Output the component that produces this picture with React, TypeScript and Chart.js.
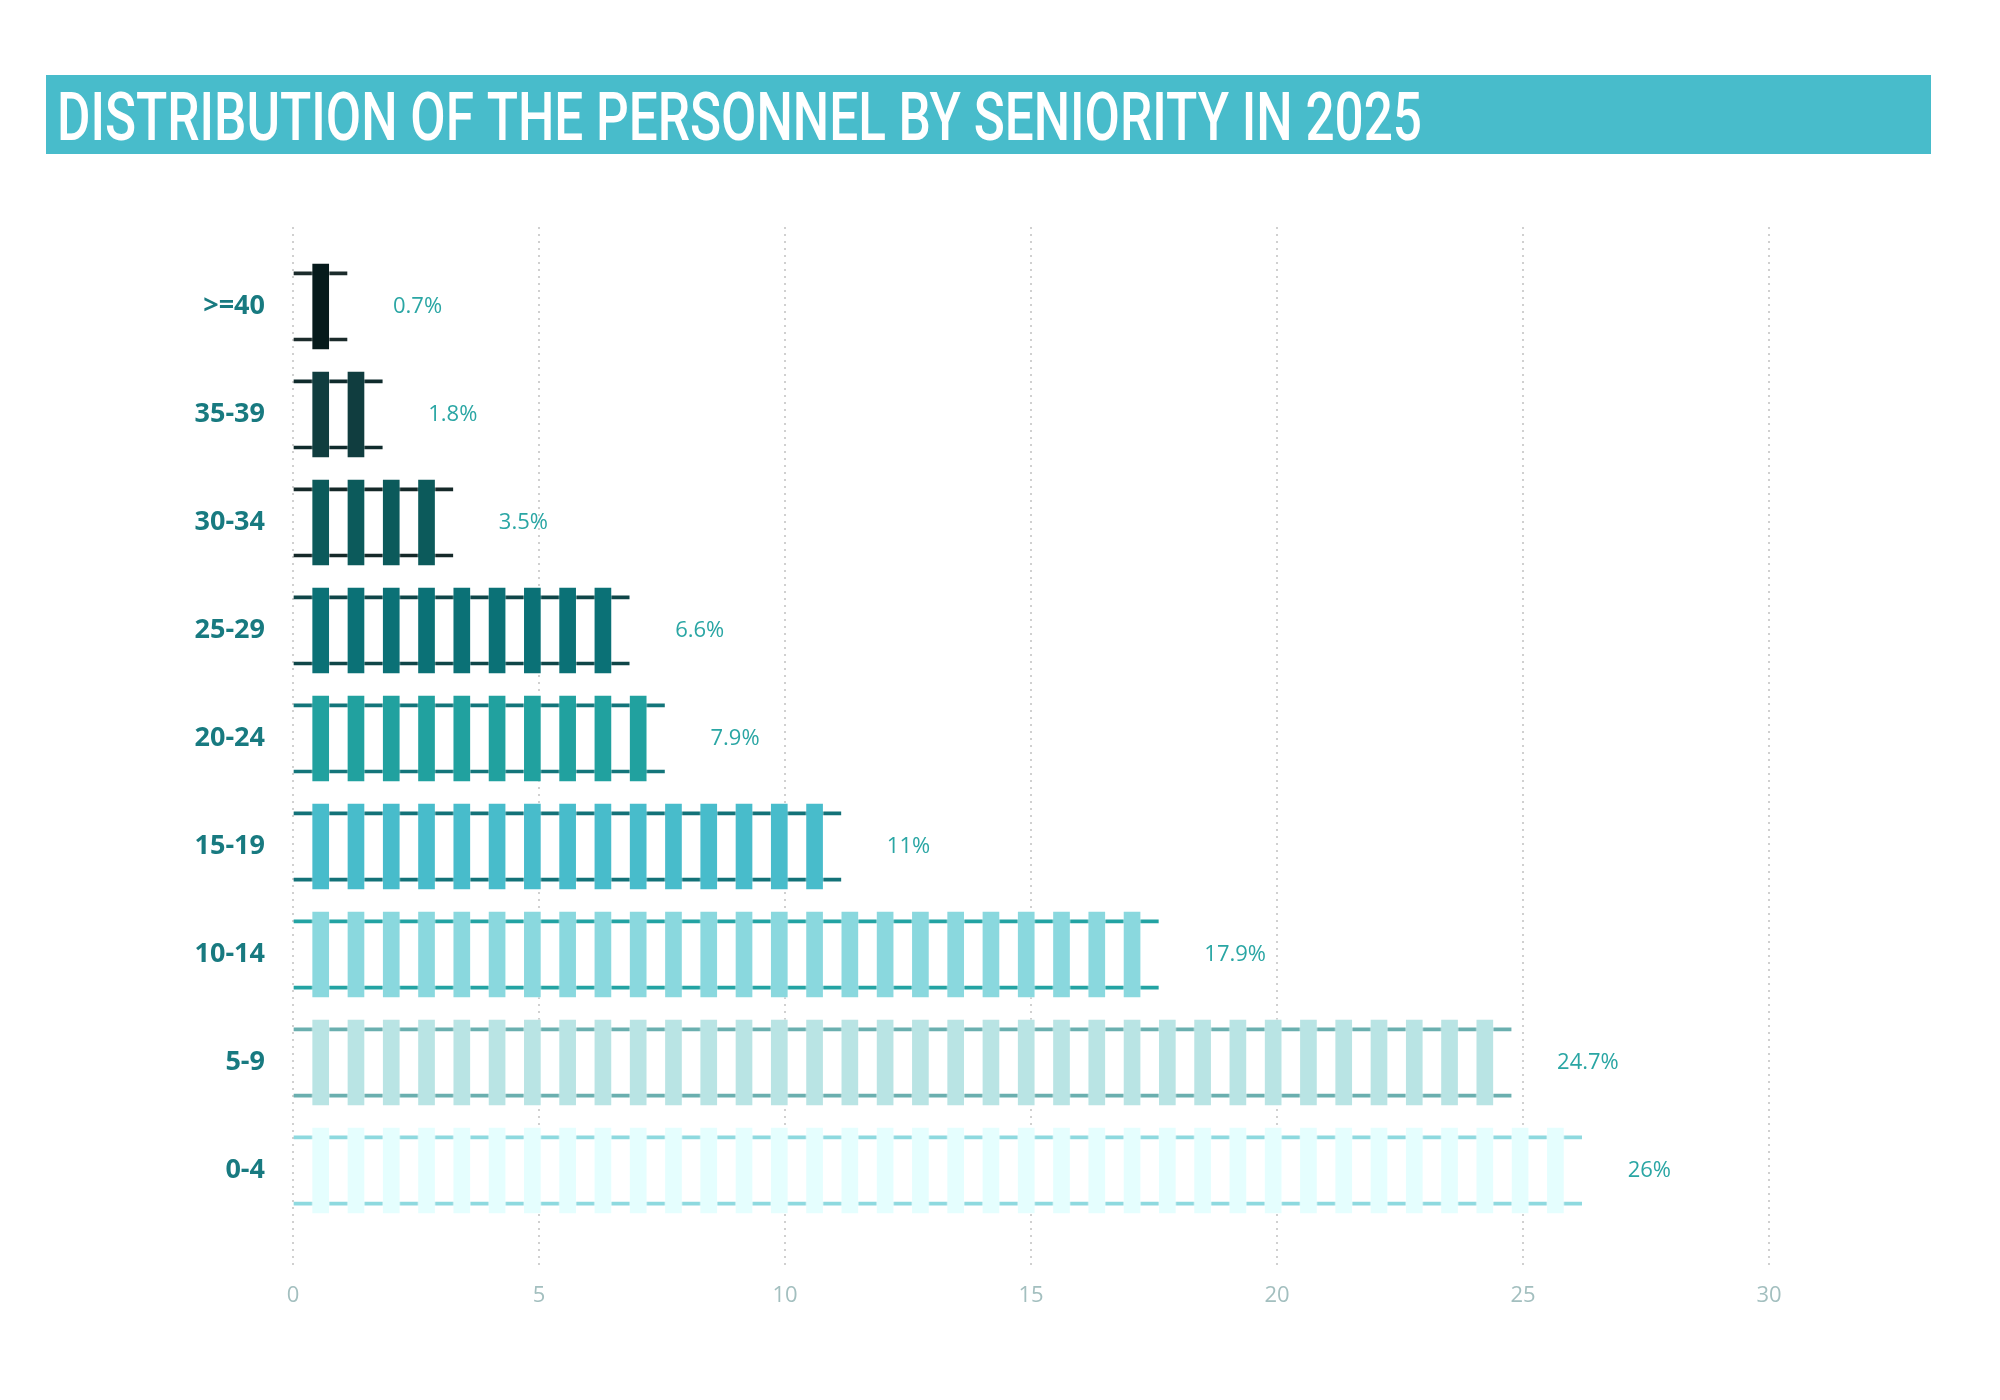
import React, { useEffect, useRef } from "react";
import { Chart, registerables } from "chart.js";

Chart.register(...registerables);

const TITLE = "DISTRIBUTION OF THE PERSONNEL BY SENIORITY IN 2025";

// Seniority bands, top to bottom
const categories = [">=40", "35-39", "30-34", "25-29", "20-24", "15-19", "10-14", "5-9", "0-4"];
// Share of personnel (%)
const shares = [0.7, 1.8, 3.5, 6.6, 7.9, 11, 17.9, 24.7, 26];
const valueLabels = ["0.7%", "1.8%", "3.5%", "6.6%", "7.9%", "11%", "17.9%", "24.7%", "26%"];

// Sleeper (tie) and rail colours per band
const tieColors = ["#061a1b", "#103d3f", "#0c5a5b", "#0b7176", "#21a19f", "#48bccb", "#8ad8de", "#b9e4e4", "#e5fefe"];
const railColors = ["#1b2b2b", "#0f2b2c", "#152929", "#0f4648", "#13757a", "#137278", "#23a3a3", "#6aafaf", "#8ed9df"];

const xMin = 0;
const xMax = 30;
const xStep = 5;

// Track drawing: sleeper pitch, first sleeper offset and width, in axis units
const TIE_PITCH = 0.717;
const TIE_OFFSET = 0.38;
const TIE_WIDTH = 0.366;
const RAIL_GAP = 0.306; // rail distance from row centre, in row units

const tieCount = (v: number) => Math.max(1, Math.floor(v / TIE_PITCH - 0.05));
const railEnd = (v: number) => tieCount(v) * TIE_PITCH + TIE_OFFSET;

type Pt = { x: [number, number]; y: number; row: number };

const tieData: Pt[] = [];
shares.forEach((v, i) => {
  const n = tieCount(v);
  for (let k = 0; k < n; k++) {
    const a = TIE_OFFSET + k * TIE_PITCH;
    tieData.push({ x: [a, a + TIE_WIDTH], y: i, row: i });
  }
});
const railTop: Pt[] = shares.map((v, i) => ({ x: [0, railEnd(v)], y: i - RAIL_GAP, row: i }));
const railBottom: Pt[] = shares.map((v, i) => ({ x: [0, railEnd(v)], y: i + RAIL_GAP, row: i }));

const bannerPlugin = {
  id: "banner",
  beforeDraw(chart: any) {
    const ctx = chart.ctx;
    ctx.save();
    ctx.fillStyle = "#ffffff";
    ctx.fillRect(0, 0, chart.width, chart.height);
    ctx.fillStyle = "#48bccb";
    ctx.fillRect(46, 75, 1885, 79);
    ctx.fillStyle = "#ffffff";
    ctx.font = '500 66px Roboto, "DejaVu Sans Condensed", sans-serif';
    ctx.textBaseline = "alphabetic";
    ctx.textAlign = "left";
    ctx.fillText(TITLE, 57, 140, 1365);
    ctx.restore();
  },
};

const valueLabelPlugin = {
  id: "valueLabels",
  afterDatasetsDraw(chart: any) {
    const ctx = chart.ctx;
    const xs = chart.scales.x;
    const ys = chart.scales.y;
    ctx.save();
    ctx.fillStyle = "#2aa6a4";
    ctx.font = '22px "Open Sans", "Noto Sans", sans-serif';
    ctx.textBaseline = "middle";
    ctx.textAlign = "left";
    shares.forEach((v, i) => {
      const px = xs.getPixelForValue(railEnd(v)) + 46;
      const py = ys.getPixelForValue(i);
      ctx.fillText(valueLabels[i], px, py);
    });
    ctx.restore();
  },
};

export default function App() {
  const ref = useRef<HTMLCanvasElement | null>(null);

  useEffect(() => {
    if (!ref.current) return;
    const chart = new Chart(ref.current, {
      type: "bar",
      data: {
        datasets: [
          {
            label: "ties",
            data: tieData as any,
            order: 0,
            grouped: false,
            barThickness: 87,
            backgroundColor: (c: any) => tieColors[c.raw ? c.raw.row : 0],
            borderColor: "rgba(255,255,255,0.35)",
            borderWidth: 1,
            borderSkipped: false,
          } as any,
          {
            label: "rail-top",
            data: railTop as any,
            order: 1,
            grouped: false,
            barThickness: 3,
            backgroundColor: (c: any) => railColors[c.raw ? c.raw.row : 0],
            borderWidth: 0,
          } as any,
          {
            label: "rail-bottom",
            data: railBottom as any,
            order: 1,
            grouped: false,
            barThickness: 3,
            backgroundColor: (c: any) => railColors[c.raw ? c.raw.row : 0],
            borderWidth: 0,
          } as any,
        ],
      },
      options: {
        indexAxis: "y",
        responsive: false,
        animation: false,
        layout: { padding: { top: 227, right: 231, bottom: 71, left: 0 } },
        plugins: {
          legend: { display: false },
          tooltip: { enabled: false },
          title: { display: false },
        },
        scales: {
          x: {
            type: "linear",
            min: xMin,
            max: xMax,
            offset: false,
            afterFit: (s: any) => {
              s.height = 60;
            },
            ticks: {
              stepSize: xStep,
              color: "#a3bfbf",
              padding: 14,
              font: { family: '"Open Sans", "Noto Sans", sans-serif', size: 22 },
            },
            grid: {
              color: "#d0d0d0",
              lineWidth: 2,
              drawTicks: false,
              offset: false,
            },
            border: { display: false, dash: [2, 5] },
          },
          y: {
            type: "linear",
            reverse: true,
            offset: false,
            min: -0.736,
            max: 8.912,
            afterFit: (s: any) => {
              s.width = 293;
            },
            ticks: {
              stepSize: 1,
              includeBounds: false,
              autoSkip: false,
              color: "#187a80",
              padding: 28,
              font: { family: '"Open Sans", "Noto Sans", sans-serif', size: 27, weight: "bold" },
              callback: (v: any) => {
                const i = Math.round(Number(v));
                return Number.isInteger(Number(v)) && categories[i] !== undefined ? categories[i] : "";
              },
            },
            grid: { display: false, drawTicks: false, offset: false },
            border: { display: false },
          },
        },
      } as any,
      plugins: [bannerPlugin, valueLabelPlugin],
    });
    return () => chart.destroy();
  }, []);

  return (
    <div style={{ position: "fixed", left: 0, top: 0, width: 2000, height: 1400, background: "#ffffff" }}>
      <canvas ref={ref} width={2000} height={1400} style={{ display: "block" }} />
    </div>
  );
}
